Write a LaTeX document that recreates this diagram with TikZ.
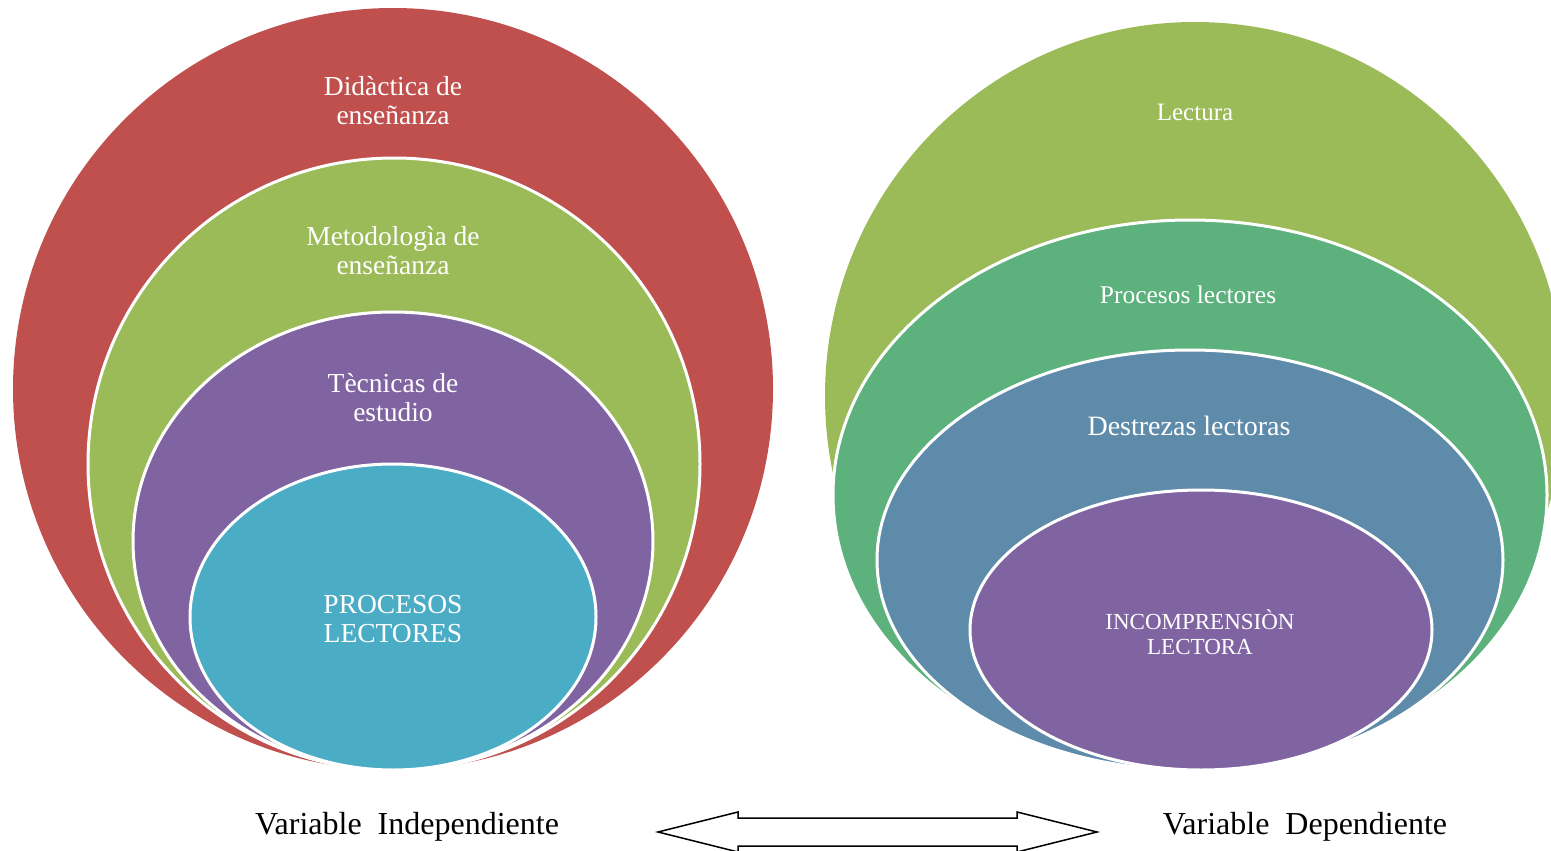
\documentclass[tikz,border=0pt]{standalone}
\usepackage{fontspec}
\setmainfont{Liberation Serif}
\definecolor{cRed}{HTML}{C0504D}
\definecolor{cLime}{HTML}{9BBB59}
\definecolor{cPurple}{HTML}{8064A2}
\definecolor{cCyan}{HTML}{4BACC6}
\definecolor{cGreen}{HTML}{5CB17C}
\definecolor{cBlue}{HTML}{5F8BAA}
\tikzset{
  ring/.style={draw=white, line width=3pt},
  lbl/.style={text=white, align=center, inner sep=0pt},
  big/.style={font=\fontsize{27.5}{29}\selectfont},
  var/.style={font=\fontsize{32}{36}\selectfont, text=black, inner sep=0pt},
}
\begin{document}
\begin{tikzpicture}[x=1pt,y=-1pt]
\useasboundingbox (0,0) rectangle (1551,851);
\clip (0,0) rectangle (1551,851);
% left group
\fill[cRed] (393,389) ellipse [x radius=380, y radius=381];
\filldraw[cLime, ring] (394,464) ellipse [x radius=306, y radius=306];
\filldraw[cPurple, ring] (393,541) ellipse [x radius=260, y radius=229];
\filldraw[cCyan, ring] (393,617) ellipse [x radius=203, y radius=153];
\node[lbl, big] (l1) at (393,101) {Didàctica de\\enseñanza};
\node[lbl, big] (l2) at (393,251) {Metodologìa de\\enseñanza};
\node[lbl, big] (l3) at (393,398) {Tècnicas de\\estudio};
\node[lbl, big] (l4) at (393,619) {PROCESOS\\LECTORES};
% right group
\fill[cLime] (1195,396) ellipse [x radius=370, y radius=374];
\filldraw[cGreen, ring] (1190,495) ellipse [x radius=357, y radius=275];
\filldraw[cBlue, ring] (1190,560) ellipse [x radius=313, y radius=210];
\filldraw[cPurple, ring] (1201,630) ellipse [x radius=231, y radius=140];
\node[lbl, font=\fontsize{25}{28}\selectfont] (r1) at (1195,112) {Lectura};
\node[lbl, font=\fontsize{25.5}{28}\selectfont] (r2) at (1188,295) {Procesos lectores};
\node[lbl, font=\fontsize{28}{30}\selectfont] (r3) at (1189,426) {Destrezas lectoras};
\node[lbl, font=\fontsize{23}{25}\selectfont] (r4) at (1200,632) {INCOMPRENSIÒN\\LECTORA};
% bottom labels
\node[var] (vi) at (407,827) {Variable\ \ Independiente};
\node[var] (vd) at (1305,827) {Variable\ \ Dependiente};
% double arrow
\draw[black, line width=1.5pt, fill=white, line join=miter]
  (658,832) -- (738,812) -- (738,818) -- (1017,818) -- (1017,812) -- (1097,832)
  -- (1017,852) -- (1017,846) -- (738,846) -- (738,852) -- cycle;
\end{tikzpicture}
\end{document}
